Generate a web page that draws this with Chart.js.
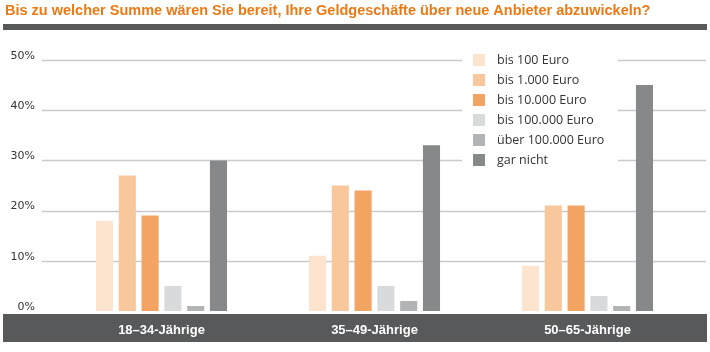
<!DOCTYPE html>
<html>
<head>
<meta charset="utf-8">
<script src="https://cdn.jsdelivr.net/npm/chart.js@4/dist/chart.umd.min.js"></script>
<style>
  html, body { margin: 0; padding: 0; background: #ffffff; }
  #wrap { position: relative; width: 710px; height: 352px; }
</style>
</head>
<body>
<div id="wrap"><canvas id="c" width="710" height="352"></canvas></div>
<script>
const titleText = "Bis zu welcher Summe wären Sie bereit, Ihre Geldgeschäfte über neue Anbieter abzuwickeln?";
const categories = ["18–34-Jährige", "35–49-Jährige", "50–65-Jährige"];
const seriesNames = ["bis 100 Euro", "bis 1.000 Euro", "bis 10.000 Euro", "bis 100.000 Euro", "über 100.000 Euro", "gar nicht"];
const bis100 = [18, 11, 9];
const bis1000 = [27, 25, 21];
const bis10000 = [19, 24, 21];
const bis100000 = [5, 5, 3];
const ueber100000 = [1, 2, 1];
const garNicht = [30, 33, 45];
const yTicks = [0, 10, 20, 30, 40, 50];
const seriesColors = ["#fde4cf", "#f9c79c", "#f3a462", "#d9dadb", "#b2b3b4", "#87888a"];

const seriesValues = [bis100, bis1000, bis10000, bis100000, ueber100000, garNicht];

const decor = {
  id: 'decor',
  beforeDraw(chart) {
    const ctx = chart.ctx;
    const y = chart.scales.y;
    ctx.save();
    // title
    ctx.fillStyle = '#ec7a14';
    ctx.font = 'bold 14.5px "Liberation Sans Narrow", "Liberation Sans", sans-serif';
    ctx.textBaseline = 'middle';
    ctx.textAlign = 'left';
    ctx.fillText(titleText, 5, 11);
    // rule under title
    ctx.fillStyle = '#58595b';
    ctx.fillRect(3, 24, 704, 6);
    // gridlines
    ctx.strokeStyle = '#cacaca';
    ctx.lineWidth = 1.5;
    yTicks.forEach(v => {
      if (v === 0) return;
      const py = Math.round(y.getPixelForValue(v)) + 0.5;
      ctx.beginPath();
      ctx.moveTo(42, py);
      ctx.lineTo(706, py);
      ctx.stroke();
    });
    // axis band
    ctx.fillStyle = '#58595b';
    ctx.fillRect(3, y.getPixelForValue(0) + 3, 704, 28);
    ctx.restore();
  },
  afterDraw(chart) {
    const ctx = chart.ctx;
    ctx.save();
    ctx.fillStyle = '#ffffff';
    ctx.fillRect(462, 48, 156, 122);
    ctx.font = '12.5px "Open Sans", "Noto Sans", sans-serif';
    ctx.textBaseline = 'middle';
    ctx.textAlign = 'left';
    chart.data.datasets.forEach((ds, i) => {
      const cy = 60 + i * 20;
      ctx.fillStyle = ds.backgroundColor;
      ctx.fillRect(473, cy - 6, 12, 12);
      ctx.fillStyle = '#333333';
      ctx.fillText(ds.label, 497, cy);
    });
    ctx.restore();
  }
};

new Chart(document.getElementById('c'), {
  type: 'bar',
  data: {
    labels: categories,
    datasets: seriesNames.map((name, i) => ({
      label: name,
      data: seriesValues[i],
      backgroundColor: seriesColors[i],
      borderWidth: 0,
      categoryPercentage: 0.642,
      barPercentage: 0.75
    }))
  },
  options: {
    responsive: false,
    animation: false,
    layout: { padding: { top: 60, right: 16, bottom: 0, left: 0 } },
    plugins: {
      legend: { display: false },
      title: { display: false },
      tooltip: { enabled: false }
    },
    scales: {
      x: {
        grid: { display: false, drawTicks: false },
        border: { display: false },
        ticks: {
          color: '#ffffff',
          padding: 12,
          font: { family: '"Liberation Sans Narrow", "Liberation Sans", sans-serif', size: 13, weight: 'bold' }
        },
        afterFit(s) { s.height = 41; }
      },
      y: {
        min: 0,
        max: 50,
        grid: { display: false, drawTicks: false },
        border: { display: false },
        afterBuildTicks(s) { s.ticks = yTicks.map(v => ({ value: v })); },
        afterFit(s) { s.width = 55; },
        ticks: {
          color: '#333333',
          padding: 20,
          labelOffset: -4,
          font: { family: '"DejaVu Sans", sans-serif', size: 11 },
          callback: v => v + '%'
        }
      }
    }
  },
  plugins: [decor]
});
</script>
</body>
</html>
